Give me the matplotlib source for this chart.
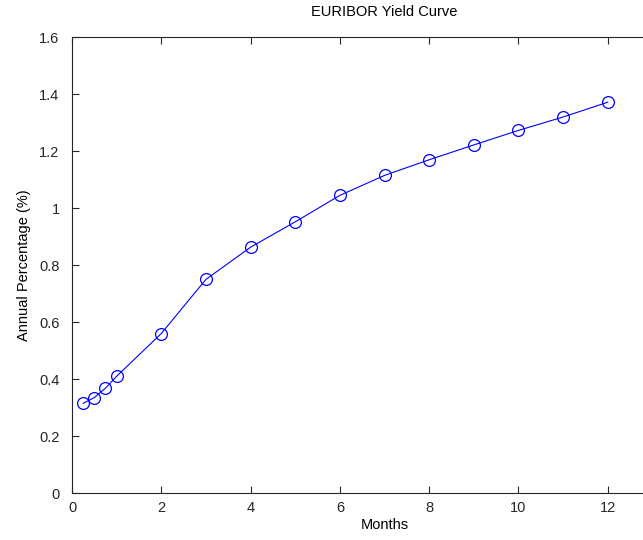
import matplotlib
matplotlib.use("Agg")
import matplotlib.pyplot as plt

# EURIBOR maturities (months) and rates (%)
months = [0.25, 0.5, 0.75, 1, 2, 3, 4, 5, 6, 7, 8, 9, 10, 11, 12]
rates = [0.315, 0.335, 0.368, 0.41, 0.56, 0.75, 0.863, 0.952, 1.045,
         1.115, 1.17, 1.222, 1.273, 1.32, 1.372]

xticks = [0, 2, 4, 6, 8, 10, 12]
yticks = [0, 0.2, 0.4, 0.6, 0.8, 1.0, 1.2, 1.4, 1.6]
ytick_labels = ["0", "0.2", "0.4", "0.6", "0.8", "1", "1.2", "1.4", "1.6"]

plt.rcParams['font.family'] = ['Liberation Sans', 'DejaVu Sans']

fig = plt.figure(figsize=(6.43, 5.40), dpi=100)
# axes runs past the right edge of the picture (cropped like the original, xlim 0..14)
ax = fig.add_axes([0.112, 0.087, 0.972, 0.844])

ax.plot(months, rates, color='#0000ff', linewidth=0.8, marker='o',
        markersize=8.5, markerfacecolor='none', markeredgecolor='#0000ff',
        markeredgewidth=0.9)

ax.set_xlim(0, 14)
ax.set_ylim(0, 1.6)
ax.set_xticks(xticks)
ax.set_yticks(yticks)
ax.set_yticklabels(ytick_labels)
ax.tick_params(direction='in', length=5, width=0.8, labelsize=10.5,
               top=True, right=True, colors='#262626')
ax.tick_params(axis='y', pad=9)
ax.tick_params(axis='x', pad=6)
for sp in ax.spines.values():
    sp.set_linewidth(0.8)
    sp.set_color('#262626')

ax.set_xlabel("Months", fontsize=10.5, labelpad=2)
ax.set_ylabel("Annual Percentage (%)", fontsize=10.5, labelpad=6)
ax.set_title("EURIBOR Yield Curve", fontsize=10.5, pad=15)

fig.savefig("out.png", dpi=100)
